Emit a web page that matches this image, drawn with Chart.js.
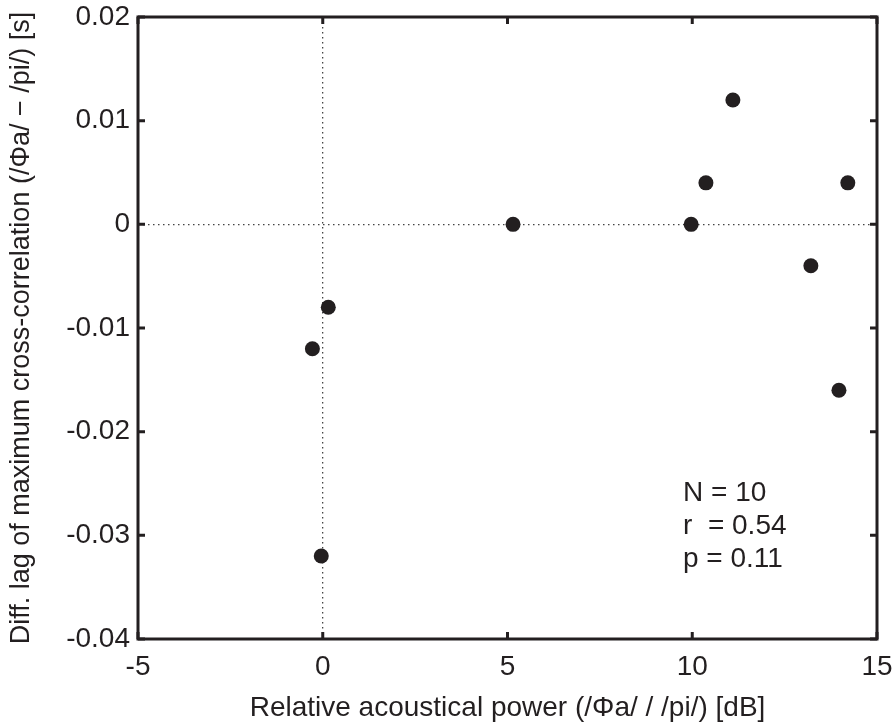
<!DOCTYPE html>
<html>
<head>
<meta charset="utf-8">
<script src="https://cdn.jsdelivr.net/npm/chart.js@4"></script>
<style>
  html, body { margin: 0; padding: 0; background: #fff; }
  #wrap { width: 893px; height: 726px; }
</style>
</head>
<body>
<div id="wrap"><canvas id="c" width="893" height="726"></canvas></div>
<script>
// values
const powerDb = [-0.28, 0.15, -0.04, 5.15, 9.97, 10.37, 11.1, 13.21, 13.97, 14.21];
const lagSec = [-0.012, -0.008, -0.032, 0, 0, 0.004, 0.012, -0.004, -0.016, 0.004];
const xTicks = [-5, 0, 5, 10, 15];
const yTicks = [-0.04, -0.03, -0.02, -0.01, 0, 0.01, 0.02];
const statLines = ['N = 10', 'r  = 0.54', 'p = 0.11'];

const ink = '#231f20';
const fontFamily = '"Liberation Sans", Arial, Helvetica, sans-serif';

const points = powerDb.map((x, i) => ({ x: x, y: lagSec[i] }));

// zero lines only, dotted
const zeroGrid = (ctx) => Math.abs(ctx.tick.value) < 1e-9 ? '#444' : 'rgba(0,0,0,0)';

// box frame with inward ticks, plus the stats text
const framePlugin = {
  id: 'frame',
  afterDatasetsDraw(chart) {
    const { ctx, chartArea: a, scales } = chart;
    ctx.save();
    ctx.strokeStyle = ink;
    ctx.lineWidth = 3;
    ctx.strokeRect(a.left, a.top, a.right - a.left, a.bottom - a.top);
    const len = 7;
    ctx.beginPath();
    xTicks.forEach(v => {
      const px = scales.x.getPixelForValue(v);
      ctx.moveTo(px, a.bottom); ctx.lineTo(px, a.bottom - len);
      ctx.moveTo(px, a.top); ctx.lineTo(px, a.top + len);
    });
    yTicks.forEach(v => {
      const py = scales.y.getPixelForValue(v);
      ctx.moveTo(a.left, py); ctx.lineTo(a.left + len, py);
      ctx.moveTo(a.right, py); ctx.lineTo(a.right - len, py);
    });
    ctx.stroke();

    // stats annotation
    ctx.fillStyle = ink;
    ctx.font = '28px ' + fontFamily;
    ctx.textBaseline = 'middle';
    ctx.textAlign = 'left';
    const tx = scales.x.getPixelForValue(9.75);
    statLines.forEach((s, i) => {
      ctx.fillText(s, tx, scales.y.getPixelForValue(-0.0259 - i * 0.0032));
    });
    ctx.restore();
  }
};

new Chart(document.getElementById('c'), {
  type: 'scatter',
  data: {
    datasets: [{
      data: points,
      backgroundColor: ink,
      borderWidth: 0,
      pointRadius: 7.5,
      pointHoverRadius: 7.5
    }]
  },
  options: {
    responsive: false,
    animation: false,
    devicePixelRatio: 1,
    layout: { padding: { top: 17, right: 16, left: 0, bottom: 0 } },
    plugins: { legend: { display: false }, tooltip: { enabled: false } },
    scales: {
      x: {
        type: 'linear',
        min: -5,
        max: 15,
        afterBuildTicks: (s) => { s.ticks = xTicks.map(v => ({ value: v })); },
        afterFit: (s) => { s.height = 87; s.paddingLeft = 0; s.paddingRight = 0; },
        grid: { color: zeroGrid, lineWidth: 1.3, drawTicks: false },
        border: { display: false, dash: [1.5, 3.5] },
        ticks: {
          color: ink,
          padding: 11,
          font: { family: fontFamily, size: 28 },
          maxRotation: 0,
          callback: (v) => String(v)
        },
        title: {
          display: true,
          text: 'Relative acoustical power (/Φa/ / /pi/) [dB]',
          color: ink,
          font: { family: fontFamily, size: 28 },
          padding: { top: 0, bottom: 1 }
        }
      },
      y: {
        type: 'linear',
        min: -0.04,
        max: 0.02,
        afterBuildTicks: (s) => { s.ticks = yTicks.map(v => ({ value: v })); },
        afterFit: (s) => { s.width = 138; s.paddingTop = 0; s.paddingBottom = 0; },
        grid: { color: zeroGrid, lineWidth: 1.3, drawTicks: false },
        border: { display: false, dash: [1.5, 3.5] },
        ticks: {
          color: ink,
          padding: 8,
          font: { family: fontFamily, size: 28 },
          callback: (v) => String(Math.round(v * 100) / 100)
        },
        title: {
          display: true,
          text: 'Diff. lag of maximum cross-correlation (/Φa/ − /pi/) [s]',
          color: ink,
          font: { family: fontFamily, size: 27 },
          padding: { top: 5, bottom: 0 }
        }
      }
    }
  },
  plugins: [framePlugin]
});
</script>
</body>
</html>
